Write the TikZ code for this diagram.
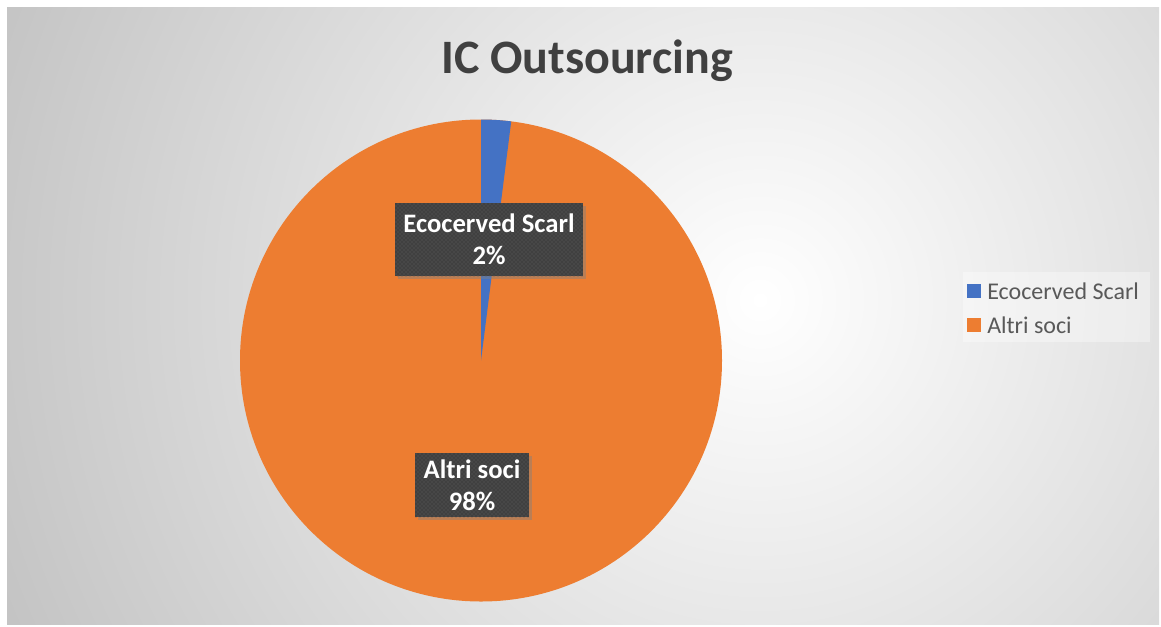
\documentclass[tikz,border=0pt]{standalone}
\usepackage{fontspec}
\setmainfont{Carlito}
\usetikzlibrary{shadows,patterns}

\definecolor{ecoblue}{HTML}{4472C4}
\definecolor{altriorange}{HTML}{ED7D31}
\definecolor{labelgray}{HTML}{404040}
\definecolor{titlegray}{HTML}{404040}
\definecolor{leggray}{HTML}{595959}

\tikzset{
    datalabel/.style={fill=labelgray, text=white, font=\fontsize{20}{24}\selectfont\bfseries,
        align=center, inner sep=0pt,
        drop shadow={shadow xshift=2.5pt, shadow yshift=-2.5pt, opacity=0.45},
        postaction={pattern=crosshatch dots, pattern color=black!62}},
    legkey/.style={minimum size=10.5pt, inner sep=0pt},
    legtext/.style={anchor=west, text=leggray, font=\fontsize{18}{21}\selectfont, inner sep=0pt},
}

\begin{document}
\begin{tikzpicture}[x=0.75pt, y=-0.75pt]
    \useasboundingbox (0,0) rectangle (1161,626);
    \fill[white] (0,0) rectangle (1161,626);

    % chart area
    \begin{scope}
        \clip (7,7) rectangle (1159,624);
        \shade[inner color=white, outer color=gray!50] (760,300) circle (880);
    \end{scope}

    \node[anchor=base, text=titlegray, font=\fontsize{36}{40}\selectfont\bfseries] (title) at (587,73) {IC Outsourcing};

    % pie
    \coordinate (c) at (481,360.5);
    \fill[altriorange] (c) circle (241);
    \fill[ecoblue] (c) -- ++(-90:241) arc[start angle=-90, end angle=-82.8, radius=241] -- cycle;

    \node[datalabel, minimum width=141pt, minimum height=54.75pt] (ecolbl) at (489,239.5) {Ecocerved Scarl\\2\%};
    \node[datalabel, minimum width=85.5pt, minimum height=48pt] (altrilbl) at (472,485) {Altri soci\\98\%};

    % legend
    \fill[white, opacity=0.35] (963,272) rectangle (1150,342);
    \node[legkey, fill=ecoblue] (ecokey) at (974,291) {};
    \node[legtext] (ecotext) at (987,291) {Ecocerved Scarl};
    \node[legkey, fill=altriorange] (altrikey) at (974,325) {};
    \node[legtext] (altritext) at (987,325) {Altri soci};
\end{tikzpicture}
\end{document}
